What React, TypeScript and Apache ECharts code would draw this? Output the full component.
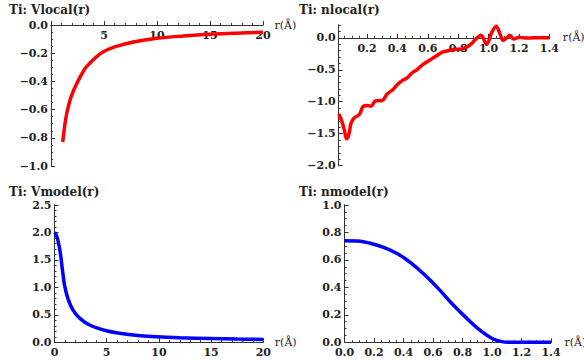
import React, { useEffect, useRef } from "react";
import * as echarts from "echarts";

// ---- data ----
const vlocalR = [1.1, 1.2, 1.32, 1.45, 1.63, 1.85, 2.1, 2.4, 2.74, 3.2, 3.68, 4.3, 4.93, 6, 7.77, 10, 12.5, 15, 17.5, 20];
const vlocalV = [-0.83, -0.77, -0.7, -0.64, -0.58, -0.52, -0.47, -0.42, -0.37, -0.31, -0.27, -0.225, -0.19, -0.155, -0.12, -0.094, -0.078, -0.066, -0.058, -0.052];

const nlocalR = [0.015, 0.031, 0.05, 0.066, 0.08, 0.096, 0.117, 0.15, 0.176, 0.204, 0.226, 0.258, 0.3, 0.334, 0.366, 0.399, 0.431, 0.463, 0.496, 0.528, 0.561, 0.593, 0.626, 0.658, 0.7, 0.74, 0.78, 0.8, 0.844, 0.888, 0.92, 0.95, 0.987, 1.02, 1.05, 1.075, 1.097, 1.12, 1.14, 1.165, 1.2, 1.25, 1.3, 1.4];
const nlocalV = [-1.19, -1.28, -1.43, -1.58, -1.52, -1.33, -1.25, -1.2, -1.07, -1.06, -1.07, -0.985, -0.98, -0.875, -0.82, -0.734, -0.67, -0.63, -0.55, -0.5, -0.43, -0.38, -0.33, -0.28, -0.22, -0.2, -0.18, -0.18, -0.16, -0.09, -0.01, 0.04, -0.105, 0.08, 0.18, 0.06, -0.04, 0.0, 0.04, -0.02, 0.01, -0.005, 0, 0];

const vmodelR = [0, 0.15, 0.32, 0.54, 0.74, 0.96, 1.28, 1.76, 2.4, 3.37, 4.97, 6.25, 8, 9.78, 12, 14.9, 17.5, 20];
const vmodelV = [2.0, 1.96, 1.86, 1.65, 1.35, 1.04, 0.8, 0.59, 0.44, 0.315, 0.21, 0.165, 0.125, 0.1, 0.083, 0.07, 0.06, 0.053];

const nmodelR = [0, 0.09, 0.18, 0.27, 0.363, 0.454, 0.545, 0.635, 0.726, 0.817, 0.908, 0.998, 1.066, 1.13, 1.4];
const nmodelV = [0.74, 0.738, 0.72, 0.69, 0.643, 0.575, 0.49, 0.393, 0.284, 0.187, 0.097, 0.029, 0.005, 0, 0];

const titles = ["Ti: Vlocal(r)", "Ti: nlocal(r)", "Ti: Vmodel(r)", "Ti: nmodel(r)"];
const axisName = "r(Å)";

// tick label values
const p1XLabels = [5, 10, 15, 20];
const p1YLabels = [-1.0, -0.8, -0.6, -0.4, -0.2, 0.0];
const p2XLabels = [0.2, 0.4, 0.6, 0.8, 1.0, 1.2, 1.4];
const p2YLabels = [-2.0, -1.5, -1.0, -0.5, 0.0];
const p3XLabels = [0, 5, 10, 15, 20];
const p3YLabels = [0.0, 0.5, 1.0, 1.5, 2.0, 2.5];
const p4XLabels = [0.0, 0.2, 0.4, 0.6, 0.8, 1.0, 1.2, 1.4];
const p4YLabels = [0.0, 0.2, 0.4, 0.6, 0.8, 1.0];

const steps = (a: number, b: number, s: number) => {
  const out: number[] = [];
  const n = Math.round((b - a) / s);
  for (let i = 0; i <= n; i++) out.push(+(a + i * s).toFixed(6));
  return out;
};

const FONT = "DejaVu Serif";
const AX = "#333";
const TXT = "#222";

const fmt = (dec: number) => (v: number) => {
  const s = Math.abs(v).toFixed(dec);
  return v < -1e-9 ? "\u2212" + s : s;
};

type Panel = {
  grid: { left: number; top: number; width: number; height: number };
  xMin: number; xMax: number; yMin: number; yMax: number;
  xLabels: number[]; yLabels: number[]; xDec: number; yDec: number;
  xMajor: number[]; xMinor: number[]; yMajor: number[]; yMinor: number[];
  r: number[]; v: number[]; color: string; title: string; titleX: number; titleY: number;
};

const panels: Panel[] = [
  {
    grid: { left: 51, top: 25, width: 212, height: 141 },
    xMin: 0, xMax: 20, yMin: -1, yMax: 0,
    xLabels: p1XLabels, yLabels: p1YLabels, xDec: 0, yDec: 1,
    xMajor: steps(0, 20, 5), xMinor: steps(0, 20, 1),
    yMajor: steps(-1, 0, 0.2), yMinor: steps(-1, 0, 0.05),
    r: vlocalR, v: vlocalV, color: "#ff0000", title: titles[0], titleX: 9, titleY: 11,
  },
  {
    grid: { left: 338.7, top: 25, width: 210.7, height: 140.7 },
    xMin: 0.014, xMax: 1.4, yMin: -2, yMax: 0.2,
    xLabels: p2XLabels, yLabels: p2YLabels, xDec: 1, yDec: 1,
    xMajor: steps(0.2, 1.4, 0.2), xMinor: steps(0.05, 1.4, 0.05),
    yMajor: steps(-2, 0, 0.5), yMinor: steps(-2, 0.2, 0.1),
    r: nlocalR, v: nlocalV, color: "#ff0000", title: titles[1], titleX: 299, titleY: 11,
  },
  {
    grid: { left: 54.5, top: 205, width: 208.8, height: 137.3 },
    xMin: 0, xMax: 20, yMin: 0, yMax: 2.5,
    xLabels: p3XLabels, yLabels: p3YLabels, xDec: 0, yDec: 1,
    xMajor: steps(0, 20, 5), xMinor: steps(0, 20, 1),
    yMajor: steps(0, 2.5, 0.5), yMinor: steps(0, 2.5, 0.1),
    r: vmodelR, v: vmodelV, color: "#0000ff", title: titles[2], titleX: 9, titleY: 193,
  },
  {
    grid: { left: 344.5, top: 205, width: 206.5, height: 137.3 },
    xMin: 0, xMax: 1.4, yMin: 0, yMax: 1,
    xLabels: p4XLabels, yLabels: p4YLabels, xDec: 1, yDec: 1,
    xMajor: steps(0, 1.4, 0.2), xMinor: steps(0, 1.4, 0.05),
    yMajor: steps(0, 1, 0.2), yMinor: steps(0, 1, 0.05),
    r: nmodelR, v: nmodelV, color: "#0000ff", title: titles[3], titleX: 299, titleY: 193,
  },
];

function buildOption() {
  const grid: any[] = [];
  const xAxis: any[] = [];
  const yAxis: any[] = [];
  const series: any[] = [];
  const graphic: any[] = [];
  panels.forEach((p, i) => {
    grid.push({ ...p.grid, containLabel: false, outerBoundsMode: "none" });
    const lineStyle = { color: AX, width: 1 };
    const labelStyle = { fontFamily: FONT, fontSize: 11, fontWeight: "bold", color: TXT };
    // place the x axis where y = 0 lies, measured up from the grid bottom
    const zeroFrac = (0 - p.yMin) / (p.yMax - p.yMin);
    const xOffset = -zeroFrac * p.grid.height;
    xAxis.push({
      type: "value", gridIndex: i, min: p.xMin, max: p.xMax, position: "bottom", offset: xOffset,
      axisLine: { show: true, onZero: false, lineStyle },
      axisTick: { show: true, inside: true, length: 4, customValues: p.xMajor, lineStyle },
      axisLabel: { show: true, customValues: p.xLabels, formatter: fmt(p.xDec), margin: 5, ...labelStyle },
      splitLine: { show: false },
      name: axisName, nameLocation: "end", nameGap: 5,
      nameTextStyle: { fontFamily: FONT, fontSize: 11, color: TXT, verticalAlign: "middle", align: "left" },
    });
    xAxis.push({
      type: "value", gridIndex: i, min: p.xMin, max: p.xMax, position: "bottom", offset: xOffset,
      axisLine: { show: true, onZero: false, lineStyle },
      axisTick: { show: true, inside: true, length: 2, customValues: p.xMinor, lineStyle },
      axisLabel: { show: false },
      splitLine: { show: false },
    });
    yAxis.push({
      type: "value", gridIndex: i, min: p.yMin, max: p.yMax, position: "left",
      axisLine: { show: true, onZero: false, lineStyle },
      axisTick: { show: true, inside: true, length: 4, customValues: p.yMajor, lineStyle },
      axisLabel: { show: true, customValues: p.yLabels, formatter: fmt(p.yDec), margin: 3, ...labelStyle },
      splitLine: { show: false },
    });
    yAxis.push({
      type: "value", gridIndex: i, min: p.yMin, max: p.yMax, position: "left",
      axisLine: { show: true, onZero: false, lineStyle },
      axisTick: { show: true, inside: true, length: 2, customValues: p.yMinor, lineStyle },
      axisLabel: { show: false },
      splitLine: { show: false },
    });
    series.push({
      type: "line", xAxisIndex: 2 * i, yAxisIndex: 2 * i,
      data: p.r.map((r, k) => [r, p.v[k]]),
      showSymbol: false, symbol: "none", smooth: 0.35,
      lineStyle: { color: p.color, width: 3.5 },
      z: 3,
    });
    graphic.push({
      type: "text", left: p.titleX, top: p.titleY - 7,
      style: { text: p.title, fontFamily: FONT, fontSize: 12, fontWeight: "bold", fill: TXT },
    });
  });
  return { animation: false, backgroundColor: "#ffffff", grid, xAxis, yAxis, series, graphic };
}

export default function App() {
  const ref = useRef<HTMLDivElement>(null);
  useEffect(() => {
    if (!ref.current) return;
    const chart = echarts.init(ref.current, undefined, { renderer: "svg" });
    chart.setOption(buildOption() as any);
    return () => chart.dispose();
  }, []);
  return (
    <div
      ref={ref}
      style={{ position: "fixed", left: 0, top: 0, width: 584, height: 360, background: "#fff" }}
    />
  );
}
